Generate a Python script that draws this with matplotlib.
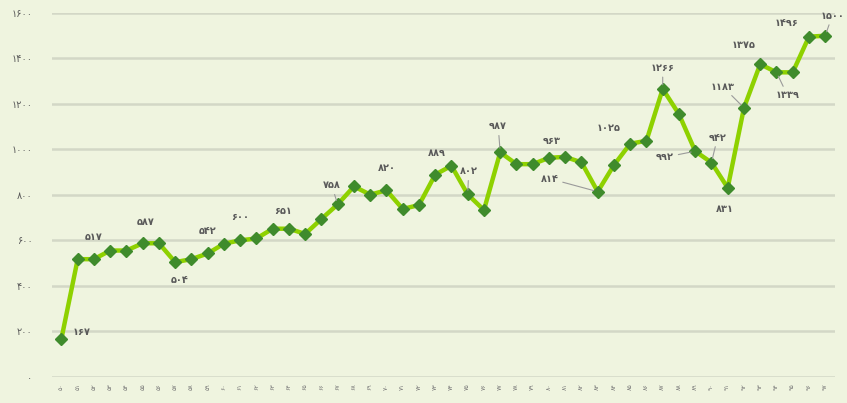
import matplotlib
matplotlib.use("Agg")
import matplotlib.pyplot as plt

# Series values (48 consecutive periods)
values = [167, 517, 517, 555, 555, 587, 587, 504, 517, 542,
          585, 600, 608, 651, 651, 628, 694, 758, 837, 801,
          820, 738, 755, 889, 928, 802, 733, 987, 935, 935,
          963, 967, 943, 814, 931, 1025, 1038, 1266, 1155, 992,
          942, 831, 1183, 1375, 1339, 1339, 1496, 1500]

# Period labels (two-digit years, Persian digits)
fa_digits = str.maketrans("0123456789", "۰۱۲۳۴۵۶۷۸۹")
period_labels = [str(50 + i).translate(fa_digits) for i in range(len(values))]

y_ticks = [0, 200, 400, 600, 800, 1000, 1200, 1400, 1600]
y_tick_labels = [str(t).translate(fa_digits) for t in y_ticks]

# Which points carry a value label
labelled_points = [0, 2, 5, 7, 9, 11, 13, 17, 20, 23, 25, 27, 30, 33, 35,
                   37, 39, 40, 41, 42, 43, 44, 46, 47]

# Label placement (pixel offset from the marker) and whether a leader line is drawn
label_style = {
    0: ((20, 7), False), 2: ((0, 22), False), 5: ((3, 21), False),
    7: ((4, -18), False), 9: ((0, 22), False), 11: ((0, 23), False),
    13: ((10, 18), False), 17: ((-6, 19), True), 20: ((0, 22), False),
    23: ((2, 22), False), 25: ((1, 23), True), 27: ((-2, 26), True),
    30: ((3, 17), False), 33: ((-48, 13), True), 35: ((-22, 16), False),
    37: ((0, 21), True), 39: ((-30, -6), True), 40: ((6, 25), True),
    41: ((-3, -21), False), 42: ((-21, 21), True), 43: ((-17, 19), False),
    44: ((11, -23), True), 46: ((-22, 14), False), 47: ((7, 20), True),
}

BG = "#eff4df"
LINE = "#8ed100"
MARKER = "#3f8b2c"
GRID = "#d3d7c6"
TEXT = "#5a5a5a"

plt.rcParams["font.family"] = ["DejaVu Sans"]

fig = plt.figure(figsize=(8.47, 4.03), dpi=100, facecolor=BG)
ax = fig.add_axes([0.0614, 0.0653, 0.9244, 0.9024], facecolor=BG)

x = list(range(len(values)))
ax.plot(x, values, color=LINE, lw=3.2, zorder=3, solid_joinstyle="round")
ax.plot(x, values, linestyle="none", marker="D", markersize=6,
        markerfacecolor=MARKER, markeredgecolor=MARKER, zorder=4)

ax.set_ylim(0, 1600)
ax.set_xlim(-0.58, 47.6)
ax.set_yticks(y_ticks)
ax.set_yticklabels(y_tick_labels, fontsize=7, color=TEXT)
ax.set_xticks(x)
ax.set_xticklabels(period_labels, rotation=90, fontsize=4.5, color="#777777")
ax.tick_params(axis="y", length=0, pad=14)
ax.tick_params(axis="x", length=0, pad=5)
for s in ax.spines.values():
    s.set_visible(False)
ax.grid(axis="y", color=GRID, lw=1.8, zorder=1)
ax.set_axisbelow(True)

for i in labelled_points:
    (dx, dy), leader = label_style[i]
    kw = {}
    if leader:
        kw["arrowprops"] = dict(arrowstyle="-", color="#9a9a9a", lw=0.8,
                                shrinkA=1, shrinkB=3)
    ax.annotate(str(values[i]).translate(fa_digits), (i, values[i]),
                xytext=(dx, dy), textcoords="offset pixels",
                ha="center", va="center", fontsize=7, color=TEXT,
                fontweight="bold", zorder=5, **kw)

fig.savefig("out.png", dpi=100, facecolor=BG)
